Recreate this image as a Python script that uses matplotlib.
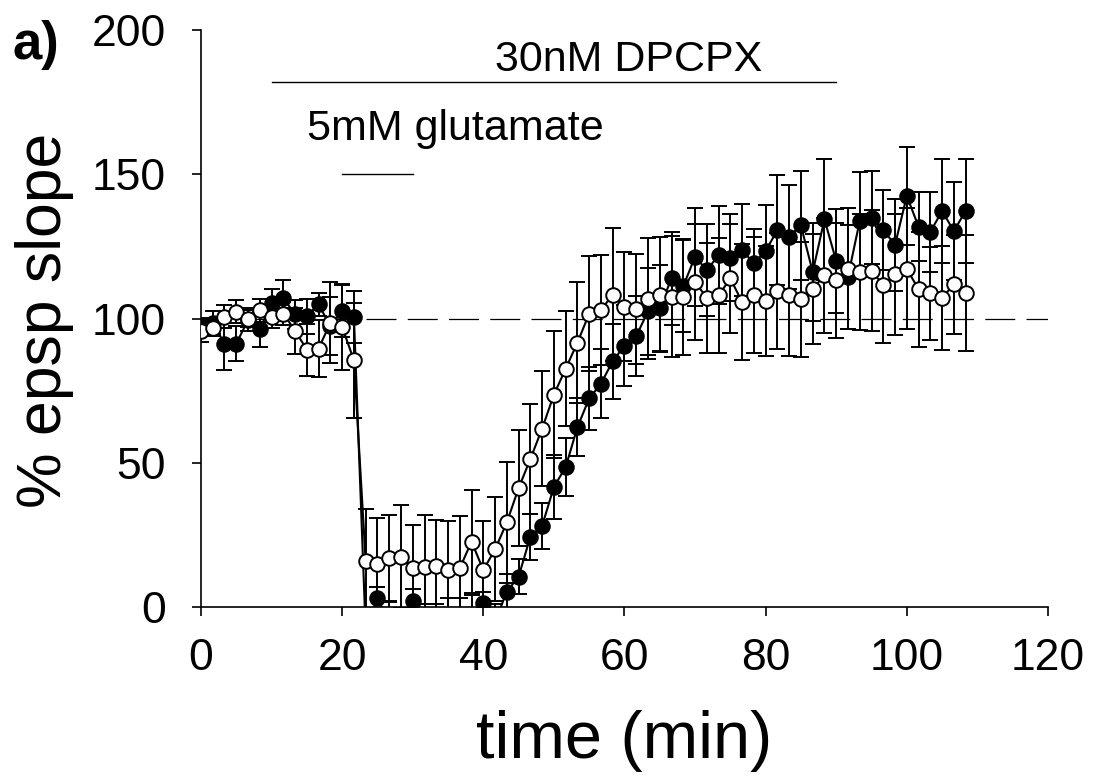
import matplotlib.pyplot as plt

plt.rcParams['font.family'] = ['Liberation Sans', 'DejaVu Sans']

# time points (min), one every ~1.67 min
time = [0, 1.67, 3.33, 5.0, 6.67, 8.33, 10.0, 11.67, 13.33, 15.0, 16.67, 18.33,
        20.0, 21.67, 23.33, 25.0, 26.67, 28.33, 30.0, 31.67, 33.33, 35.0, 36.67, 38.33,
        40.0, 41.67, 43.33, 45.0, 46.67, 48.33, 50.0, 51.67, 53.33, 55.0, 56.67, 58.33,
        60.0, 61.67, 63.33, 65.0, 66.67, 68.33, 70.0, 71.67, 73.33, 75.0, 76.67, 78.33,
        80.0, 81.67, 83.33, 85.0, 86.67, 88.33, 90.0, 91.67, 93.33, 95.0, 96.67, 98.33,
        100.0, 101.67, 103.33, 105.0, 106.67, 108.33]

# filled circles
filled = [97.3, 98.5, 91.3, 91.3, 99.5, 96.2, 105.4, 107.2, 101.4, 100.8, 104.9, 97.3,
          102.5, 100.5, -8, 3.0, -5, -6, 2.2, -5, -6, -4, -4, -3,
          1.3, -5, 5.3, 10.5, 24.4, 28.1, 41.6, 48.5, 62.3, 72.3, 77.4, 85.2,
          90.6, 93.9, 102.5, 103.7, 113.9, 111.2, 121.4, 116.8, 121.9, 121.1, 123.7, 119.1,
          123.4, 130.7, 128.4, 132.3, 116.1, 134.4, 119.9, 114.5, 133.8, 135.0, 130.7, 125.5,
          142.5, 131.8, 130.0, 137.3, 130.3, 137.3]
filled_err = [3, 4, 9, 6, 4, 6, 5, 6, 5, 6, 4, 10,
              9, 9, 6, 4, 7, 5, 4, 6, 7, 7, 7, 7,
              4, 6, 6, 6, 8, 8, 11, 10, 10, 11, 12, 13,
              14, 14, 15, 15, 16, 16, 17, 16, 17, 15, 16, 12,
              16, 19, 18, 19, 17, 21, 18, 18, 17, 16, 14, 16,
              17, 12, 14, 18, 17, 18]

# open circles
opened = [95.8, 96.8, 100.6, 102.3, 99.9, 102.9, 100.6, 101.7, 95.8, 89.2, 89.6, 98.5,
          97.1, 85.5, 16.1, 14.9, 16.9, 17.5, 13.4, 13.8, 14.3, 12.8, 13.4, 22.7,
          12.8, 20.0, 29.3, 41.2, 51.3, 61.8, 73.6, 82.6, 91.6, 101.7, 102.9, 108.3,
          104.1, 103.4, 106.8, 108.3, 107.5, 107.5, 112.6, 107.2, 108.0, 113.9, 105.7, 108.1,
          106.0, 109.5, 108.0, 106.6, 110.3, 115.0, 113.2, 117.2, 116.1, 116.5, 111.6, 115.3,
          117.2, 110.1, 108.7, 107.2, 111.8, 108.9]
opened_err = [4, 3, 4, 4, 3, 4, 4, 4, 8, 9, 10, 14,
              15, 20, 18, 16, 15, 18, 15, 18, 16, 17, 18, 18,
              17, 18, 21, 20, 19, 20, 22, 20, 21, 20, 19, 23,
              19, 19, 21, 20, 21, 20, 20, 19, 20, 19, 20, 20,
              19, 20, 21, 20, 19, 20, 20, 21, 20, 21, 20, 21,
              21, 20, 16, 18, 17, 20]

fig = plt.figure(figsize=(11, 7.8), dpi=100)
ax = fig.add_axes([0.1827, 0.2218, 0.7700, 0.7397])

ax.axhline(100, color='black', lw=0.9, dashes=(24, 9), zorder=1)

ax.errorbar(time, filled, yerr=filled_err, fmt='-o', color='black',
            mfc='black', mec='black', ms=10.5, mew=1.4, lw=1.5,
            elinewidth=1.4, capsize=6, capthick=1.4, zorder=2)
ax.errorbar(time, opened, yerr=opened_err, fmt='-o', color='black',
            mfc='white', mec='black', ms=10.5, mew=1.4, lw=1.5,
            elinewidth=1.4, capsize=6, capthick=1.4, zorder=3)

# drug application bars
ax.plot([10, 90], [182, 182], color='black', lw=1.0, clip_on=False)
ax.text(41.6, 185.8, '30nM DPCPX', fontsize=31, ha='left', va='baseline')
ax.plot([20, 30], [150, 150], color='black', lw=1.0)
ax.text(15.0, 161.8, '5mM glutamate', fontsize=31, ha='left', va='baseline')

ax.set_xlim(0, 120)
ax.set_ylim(0, 200)
ax.set_xticks([0, 20, 40, 60, 80, 100, 120])
ax.set_yticks([0, 50, 100, 150, 200])
ax.spines['top'].set_visible(False)
ax.spines['right'].set_visible(False)
ax.spines['left'].set_linewidth(1.2)
ax.spines['bottom'].set_linewidth(1.2)
ax.tick_params(direction='out', length=6.5, width=1.2, labelsize=32)
ax.tick_params(axis='x', pad=16)
ax.tick_params(axis='y', pad=19)

ax.set_xlabel('time (min)', fontsize=48)
ax.set_ylabel('% epsp slope', fontsize=45)
ax.xaxis.set_label_coords(0.5, -0.1785)
ax.yaxis.set_label_coords(-0.150, 0.497)

fig.text(12 / 1100, 1 - 45 / 780, 'a)', fontsize=38, fontweight='bold', va='center')

fig.savefig('out.png', dpi=100)
